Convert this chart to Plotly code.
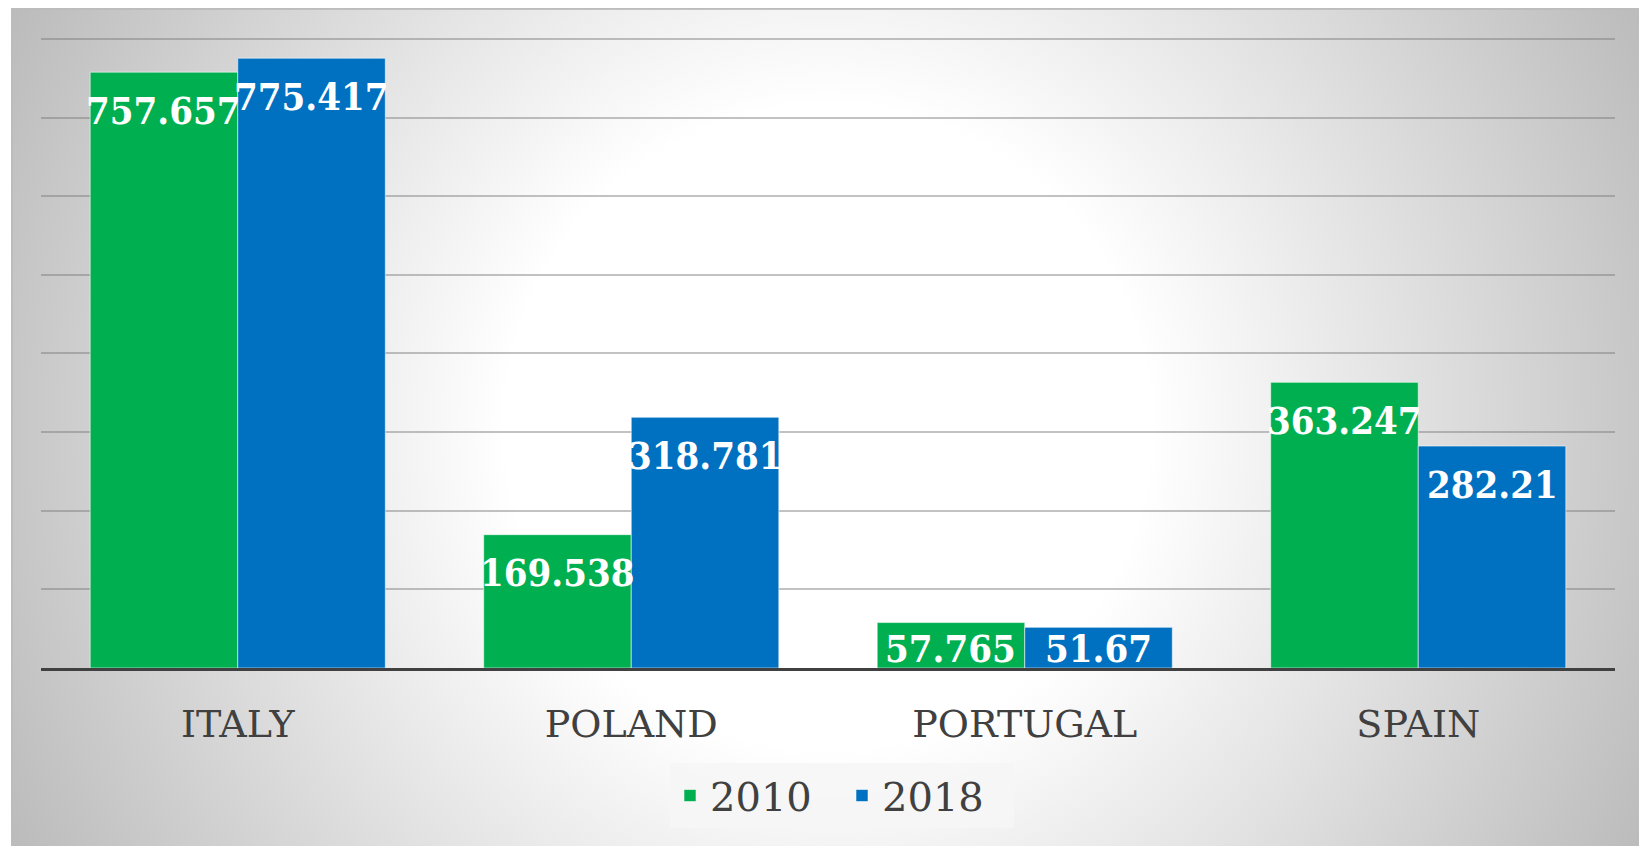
import base64
import plotly.graph_objects as go

categories = ["ITALY", "POLAND", "PORTUGAL", "SPAIN"]
values_2010 = [757.657, 169.538, 57.765, 363.247]
values_2018 = [775.417, 318.781, 51.67, 282.21]
series_names = ["2010", "2018"]
labels_2010 = ["757.657", "169.538", "57.765", "363.247"]
labels_2018 = ["775.417", "318.781", "51.67", "282.21"]

W, H = 1647, 846
OFF = 8  # page body margin offset
YMAX = 800
YTOP = 810
PW = 1574
PH800 = 629
PH = PH800 * YTOP / YMAX
ML = 41 - OFF
MT = 39 - OFF - (PH - PH800)
MR = W - ML - PW
MB = H - MT - PH

GREEN = "#00B050"
BLUE = "#0070C0"
TXT = "#404040"

cw, ch = 1634, 846
svg = f'''<svg xmlns="http://www.w3.org/2000/svg" width="{cw}" height="{ch}" viewBox="0 0 {cw} {ch}" preserveAspectRatio="none">
<defs><radialGradient id="g" gradientUnits="userSpaceOnUse" cx="{cw/2}" cy="420" r="918">
<stop offset="0" stop-color="#ffffff"/><stop offset="0.35" stop-color="#ffffff"/><stop offset="1" stop-color="#bbbbbb"/>
</radialGradient></defs>
<rect x="0" y="0" width="{cw}" height="{ch}" fill="url(#g)"/>
<rect x="1" y="1" width="{cw-2}" height="{ch+10}" fill="none" stroke="#bcbcbc" stroke-width="2"/>
</svg>'''
src = "data:image/svg+xml;base64," + base64.b64encode(svg.encode()).decode()

img_x0, img_y0 = 11 - OFF, 8 - OFF
fig = go.Figure()
fig.add_trace(go.Bar(name=series_names[0], x=categories, y=values_2010,
                     marker=dict(color=GREEN, line=dict(color="rgba(255,255,255,0.55)", width=1))))
fig.add_trace(go.Bar(name=series_names[1], x=categories, y=values_2018,
                     marker=dict(color=BLUE, line=dict(color="rgba(255,255,255,0.55)", width=1))))

px_per_unit = PH / YTOP
bar_w = PW / len(categories) * 0.75 / 2
annotations = []
for vals, labs, sign in [(values_2010, labels_2010, -1), (values_2018, labels_2018, 1)]:
    for c, v, t in zip(categories, vals, labs):
        hpx = v * px_per_unit
        shift = -min(38, hpx - 19)
        annotations.append(dict(x=c, y=v, xref="x", yref="y", text=t, showarrow=False,
                                xshift=sign * bar_w / 2, yshift=shift, yanchor="middle",
                                font=dict(family="DejaVu Serif Condensed, DejaVu Serif", size=38,
                                          color="white", weight="bold")))

fig.update_layout(
    width=W, height=H,
    margin=dict(l=ML, r=MR, t=MT, b=MB, pad=0),
    paper_bgcolor="white", plot_bgcolor="rgba(0,0,0,0)",
    barmode="group", bargap=0.25, bargroupgap=0,
    images=[dict(source=src, xref="paper", yref="paper",
                 x=(img_x0 - ML) / PW, y=(MT + PH - img_y0) / PH,
                 sizex=cw / PW, sizey=ch / PH, sizing="stretch",
                 xanchor="left", yanchor="top", layer="below")],
    xaxis=dict(showline=True, linecolor=TXT, linewidth=3, ticks="",
               tickfont=dict(family="DejaVu Serif", size=38, color=TXT),
               ticklabelstandoff=20, showgrid=False),
    yaxis=dict(range=[0, YTOP], tickvals=list(range(100, YMAX + 1, 100)), showticklabels=False,
               zeroline=False, showgrid=True, gridcolor="rgba(120,120,120,0.45)", gridwidth=1.5),
    legend=dict(orientation="h", x=0.5 + 14 / PW, xanchor="center", y=(MT + PH - (763 - OFF)) / PH,
                yanchor="top", bgcolor="rgba(246,246,246,0.85)", entrywidth=127,
                font=dict(family="DejaVu Serif", size=40, color=TXT)),
    annotations=annotations,
    showlegend=True,
)
fig.write_html("out.html")
